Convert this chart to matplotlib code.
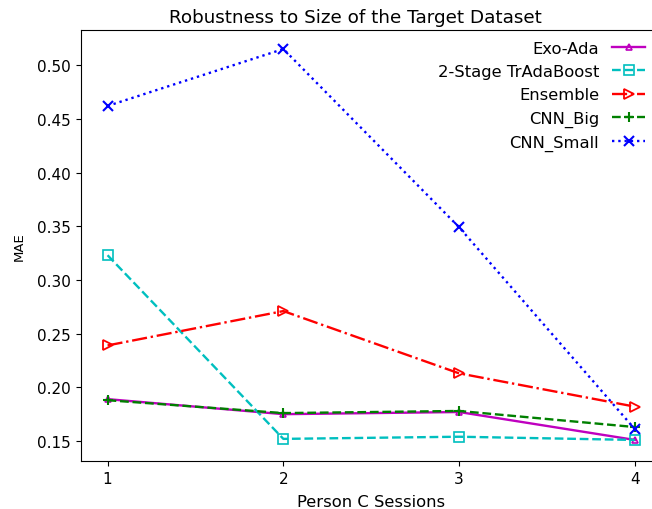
import matplotlib
matplotlib.use("Agg")
import matplotlib.pyplot as plt

sessions = [1, 2, 3, 4]
exo_ada = [0.189, 0.175, 0.177, 0.151]
tradaboost = [0.323, 0.152, 0.154, 0.151]
ensemble = [0.239, 0.271, 0.213, 0.182]
cnn_big = [0.188, 0.176, 0.178, 0.163]
cnn_small = [0.462, 0.515, 0.349, 0.161]
yticks = [0.15, 0.20, 0.25, 0.30, 0.35, 0.40, 0.45, 0.50]

fig = plt.figure(figsize=(6.52, 5.10), dpi=100)
W, H = 652, 510
ax = fig.add_axes([80.5 / W, 1 - 462 / H, (662 - 80.5) / W, (462 - 31) / H])

lw = 1.7
ax.plot(sessions, exo_ada, color='m', linestyle='-', lw=lw, marker='^', fillstyle='none',
        markersize=5, mew=1.2, label='Exo-Ada')
ax.plot(sessions, tradaboost, color='c', linestyle='--', lw=lw, marker='s', fillstyle='none',
        markersize=7, mew=1.2, label='2-Stage TrAdaBoost')
ax.plot(sessions, ensemble, color='r', linestyle='-.', lw=lw, marker='>', fillstyle='none',
        markersize=7, mew=1.3, label='Ensemble')
ax.plot(sessions, cnn_big, color='g', linestyle='--', lw=lw, marker='+', markersize=7, mew=1.5,
        label='CNN_Big')
ax.plot(sessions, cnn_small, color='b', linestyle=':', lw=lw, marker='x', markersize=7, mew=1.5,
        label='CNN_Small')

ax.set_xlim(0.846, 4.154)
ax.set_ylim(0.1314, 0.5327)
ax.set_xticks(sessions)
ax.set_yticks(yticks)
ax.set_yticklabels(['%.2f' % v for v in yticks])
ax.tick_params(labelsize=11)
ax.set_title('Robustness to Size of the Target Dataset', fontsize=13.2, x=0.4725, pad=6)
ax.set_xlabel('Person C Sessions', fontsize=11.8, labelpad=6)
ax.set_ylabel('MAE', fontsize=9.5)
ax.yaxis.set_label_coords(-0.095, 0.5)

ax.legend(loc='upper right', bbox_to_anchor=(645 / W, 1 - 42 / H), bbox_transform=fig.transFigure,
          frameon=False, markerfirst=False, fontsize=11.8, borderpad=0, borderaxespad=0)

fig.savefig('out.png', dpi=100)
